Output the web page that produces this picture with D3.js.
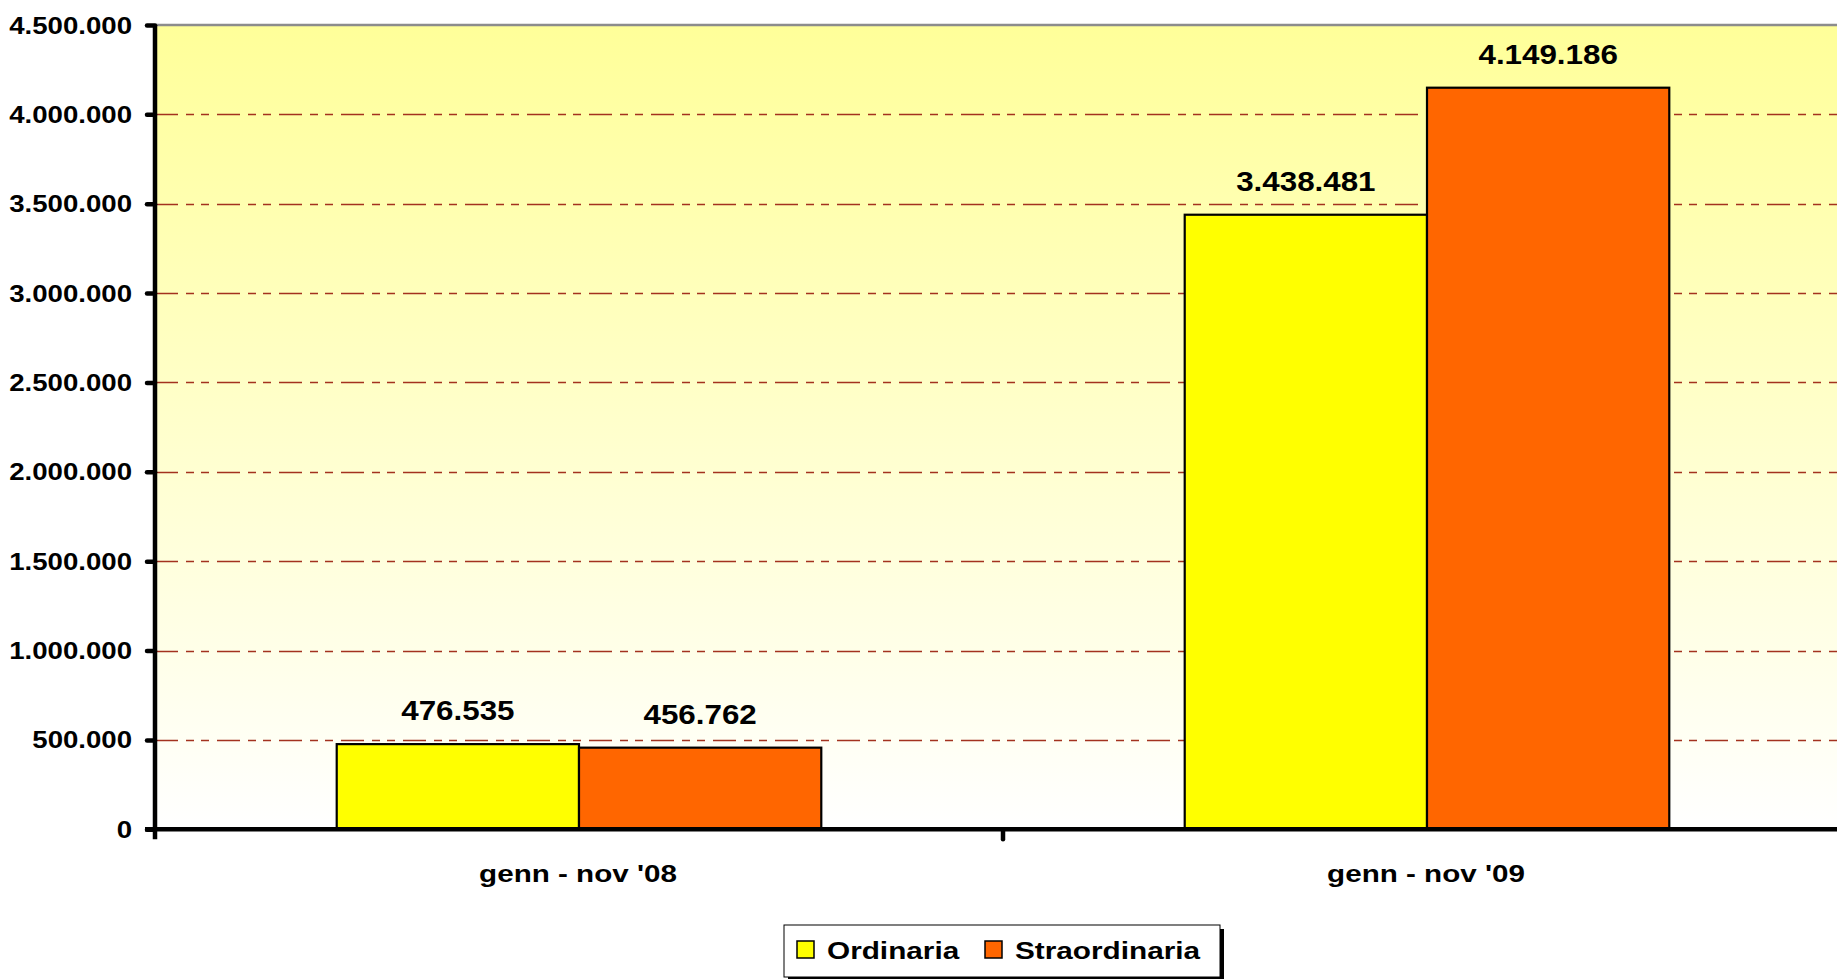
<!DOCTYPE html>
<html>
<head>
<meta charset="utf-8">
<script src="https://cdn.jsdelivr.net/npm/d3@7"></script>
<style>
  html, body { margin: 0; padding: 0; background: #fff; }
  svg { display: block; font-family: "Liberation Sans", Arial, sans-serif; font-weight: bold; }
</style>
</head>
<body>
<div id="chart"></div>
<script>
// data
var categories = ["genn - nov '08", "genn - nov '09"];
var seriesNames = ["Ordinaria", "Straordinaria"];
var ordinaria = [476535, 3438481];
var straordinaria = [456762, 4149186];
var yTicks = [0, 500000, 1000000, 1500000, 2000000, 2500000, 3000000, 3500000, 4000000, 4500000];
var colors = ["#FFFF00", "#FF6600"];

var width = 1837
var height = 979

var plotLeft = 155
var plotTop = 25
var plotBottom = 829.3
var plotRight = 1851

var locale = d3.formatLocale({ decimal: ",", thousands: ".", grouping: [3], currency: ["", ""] });
var fmt = locale.format(",d");

var svg = d3.select('#chart').append('svg')
    .attr('width', width)
    .attr('height', height);

var defs = svg.append('defs');
var grad = defs.append('linearGradient')
    .attr('id', 'bg')
    .attr('x1', 0).attr('y1', 0).attr('x2', 0).attr('y2', 1);
grad.append('stop').attr('offset', '0%').attr('stop-color', '#FFFF99');
grad.append('stop').attr('offset', '100%').attr('stop-color', '#FFFFFF');

var x0 = d3.scaleBand()
    .domain(categories)
    .range([plotLeft, plotRight])
    .paddingInner(0)
    .paddingOuter(0);

var x1 = d3.scaleBand()
    .domain(seriesNames)
    .range([0, x0.bandwidth()])
    .paddingInner(0)
    .paddingOuter(0.75);

var y = d3.scaleLinear()
    .domain([0, 4500000])
    .range([plotBottom, plotTop]);

// plot area
svg.append('rect')
    .attr('x', plotLeft)
    .attr('y', y(4500000))
    .attr('width', plotRight - plotLeft)
    .attr('height', y(0) - y(4500000))
    .style('fill', 'url(#bg)');

svg.append('line')
    .attr('x1', plotLeft).attr('x2', width)
    .attr('y1', y(4500000)).attr('y2', y(4500000))
    .style('stroke', '#8c8c8c')
    .style('stroke-width', 2.5);

// gridlines
svg.append('g').selectAll('line')
    .data(yTicks.filter(d => d > 0 && d < 4500000))
    .enter().append('line')
    .attr('x1', plotLeft).attr('x2', width)
    .attr('y1', d => Math.round(y(d)) + 0.5).attr('y2', d => Math.round(y(d)) + 0.5)
    .style('stroke', '#A3321F')
    .style('stroke-width', 1.3)
    .style('stroke-dasharray', '23,8,8,7,8,8');

// bars
var rows = categories.map((c, i) => ({ cat: c, vals: [ordinaria[i], straordinaria[i]] }));

var groups = svg.append('g').selectAll('g')
    .data(rows)
    .enter().append('g')
    .attr('transform', d => `translate(${x0(d.cat)},0)`);

groups.selectAll('rect')
    .data(d => d.vals.map((v, j) => ({ name: seriesNames[j], value: v, j: j })))
    .enter().append('rect')
    .attr('x', d => x1(d.name))
    .attr('y', d => y(d.value))
    .attr('width', x1.bandwidth())
    .attr('height', d => y(0) - y(d.value))
    .style('fill', d => colors[d.j])
    .style('stroke', '#000')
    .style('stroke-width', 2.2);

groups.selectAll('text')
    .data(d => d.vals.map((v, j) => ({ name: seriesNames[j], value: v })))
    .enter().append('text')
    .attr('transform', d => `translate(${x1(d.name) + x1.bandwidth() / 2},${y(d.value) - 24}) scale(1.1,1)`)
    .attr('text-anchor', 'middle')
    .style('font-size', '28.5px')
    .text(d => fmt(d.value));

// y axis
var yAxis = svg.append('g')
    .attr('transform', `translate(${plotLeft},0)`)
    .call(d3.axisLeft(y).tickValues(yTicks).tickSize(8).tickSizeOuter(0).tickFormat(fmt));

yAxis.select('.domain')
    .attr('d', `M0,${y(4500000)}V${y(0) + 10}`)
    .style('stroke', '#000')
    .style('stroke-width', 4.5);
yAxis.selectAll('.tick line').style('stroke', '#000').style('stroke-width', 4.5).style('stroke-linecap', 'round');
yAxis.selectAll('.tick text')
    .attr('x', null).attr('dy', null)
    .attr('transform', 'translate(-23,8) scale(1.2,1)')
    .style('font-size', '23px')
    .style('font-family', '"Liberation Sans", Arial, sans-serif')
    .style('font-weight', 'bold')
    .style('fill', '#000');

// x axis
var xAxis = svg.append('g')
    .attr('transform', `translate(0,${y(0)})`);

xAxis.append('line')
    .attr('x1', plotLeft - 10).attr('x2', width)
    .attr('y1', 0).attr('y2', 0)
    .style('stroke', '#000')
    .style('stroke-width', 4.5);

xAxis.selectAll('line.tk')
    .data(categories.slice(1))
    .enter().append('line')
    .attr('class', 'tk')
    .attr('x1', d => x0(d)).attr('x2', d => x0(d))
    .attr('y1', 0).attr('y2', 10)
    .style('stroke', '#000')
    .style('stroke-width', 4.5)
    .style('stroke-linecap', 'round');

xAxis.selectAll('text')
    .data(categories)
    .enter().append('text')
    .attr('transform', d => `translate(${x0(d) + x0.bandwidth() / 2 - 1},53) scale(1.26,1)`)
    .attr('text-anchor', 'middle')
    .style('font-size', '23.5px')
    .text(d => d);

// legend
var legend = svg.append('g').attr('transform', 'translate(784,925)');

legend.append('rect')
    .attr('x', 4).attr('y', 4)
    .attr('width', 436).attr('height', 52)
    .style('fill', '#000');
legend.append('rect')
    .attr('x', 0).attr('y', 0)
    .attr('width', 436).attr('height', 52)
    .style('fill', '#fff')
    .style('stroke', '#000')
    .style('stroke-width', 1);

var legendX = [13, 201];
var item = legend.selectAll('g.item')
    .data(seriesNames)
    .enter().append('g')
    .attr('class', 'item')
    .attr('transform', (d, i) => `translate(${legendX[i]},0)`);

item.append('rect')
    .attr('x', 0).attr('y', 16)
    .attr('width', 17).attr('height', 17)
    .style('fill', (d, i) => colors[i])
    .style('stroke', '#000')
    .style('stroke-width', 1.5);

item.append('text')
    .attr('transform', 'translate(30,34) scale(1.24,1)')
    .style('font-size', '24px')
    .text(d => d);
</script>
</body>
</html>
